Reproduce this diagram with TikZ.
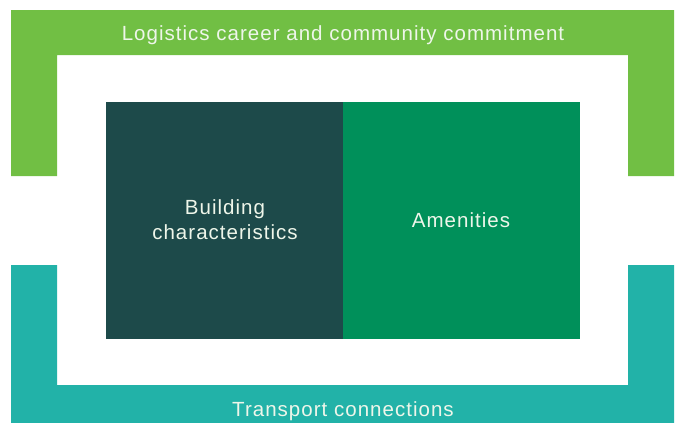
\documentclass[tikz,border=0pt]{standalone}
\usepackage{fontspec}
\setmainfont[LetterSpace=5]{Liberation Sans}
\definecolor{lgreen}{HTML}{71BF44}
\definecolor{teal2}{HTML}{22B2A8}
\definecolor{darkteal}{HTML}{1D4A4A}
\definecolor{midgreen}{HTML}{00905A}
\definecolor{txt}{HTML}{EEF6EA}
\begin{document}
\begin{tikzpicture}[x=1pt,y=-1pt,
  lbl/.style={text=txt,font=\fontsize{20.5}{25}\selectfont,align=center,inner sep=0pt,anchor=base},
  boxfill/.style={draw=none,minimum width=237pt,minimum height=237pt,anchor=north west,inner sep=0pt}]
\useasboundingbox (0,0) rectangle (678,423);
\fill[lgreen] (11,10) -- (674,10) -- (674,176) -- (628,176) -- (628,55) -- (57,55) -- (57,176) -- (11,176) -- cycle;
\fill[teal2] (11,265) -- (57,265) -- (57,385) -- (628,385) -- (628,265) -- (674,265) -- (674,423) -- (11,423) -- cycle;
\node[boxfill,fill=darkteal] (bc) at (106,102) {};
\node[boxfill,fill=midgreen] (am) at (343,102) {};
\node[lbl] (top) at (343,41) {Logistics career and community commitment};
\node[lbl] (bot) at (343,416) {Transport connections};
\node[lbl] (bct) at (225,239) {Building\\characteristics};
\node[lbl] (amt) at (461,227) {Amenities};
\end{tikzpicture}
\end{document}
